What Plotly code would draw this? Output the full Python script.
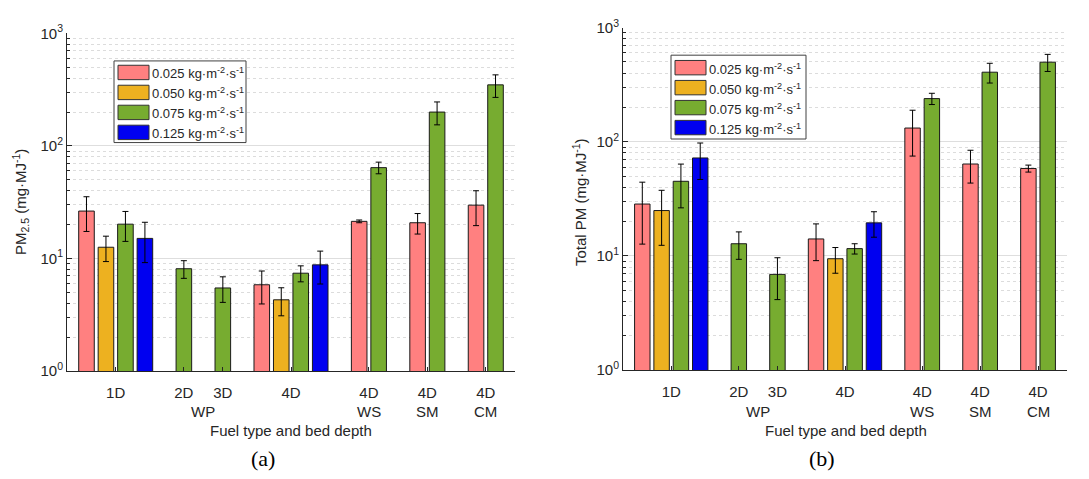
import plotly.graph_objects as go

# ---------------- data ----------------
categories = ["1D", "2D", "3D", "4D", "4D WS", "4D SM", "4D CM"]
tick_labels = ["1D", "2D", "3D", "4D", "4D", "4D", "4D"]
fuel_labels = ["WP", "WS", "SM", "CM"]
series_names = ["0.025 kg·m<sup>-2</sup>·s<sup>-1</sup>",
                "0.050 kg·m<sup>-2</sup>·s<sup>-1</sup>",
                "0.075 kg·m<sup>-2</sup>·s<sup>-1</sup>",
                "0.125 kg·m<sup>-2</sup>·s<sup>-1</sup>"]

# panel (a): PM2.5
pm25_025 = [26.4, None, None, 5.85, 21.4, 20.8, 29.8]
pm25_050 = [12.6, None, None, 4.30, None, None, None]
pm25_075 = [20.2, 8.12, 5.48, 7.41, 64.2, 200, 349]
pm25_125 = [15.1, None, None, 8.79, None, None, None]
pm25_err_025 = [9.0, None, None, 1.9, 0.6, 4.3, 10.2]
pm25_err_050 = [3.2, None, None, 1.2, None, None, None]
pm25_err_075 = [6.0, 1.45, 1.4, 1.2, 7.6, 46, 79]
pm25_err_125 = [5.9, None, None, 2.85, None, None, None]

# panel (b): Total PM
tpm_025 = [28.5, None, None, 14.1, 132, 63.9, 58.4]
tpm_050 = [25.0, None, None, 9.46, None, None, None]
tpm_075 = [45.1, 12.8, 6.9, 11.6, 239, 407, 498]
tpm_125 = [72.2, None, None, 19.5, None, None, None]
tpm_err_025 = [15.8, None, None, 5.0, 57, 20.4, 4.1]
tpm_err_050 = [12.6, None, None, 2.4, None, None, None]
tpm_err_075 = [18.7, 3.45, 2.75, 1.2, 27, 80, 85]
tpm_err_125 = [25.4, None, None, 4.9, None, None, None]

# ---------------- layout constants ----------------
group_pos = [0, 3.5, 5.5, 9, 13, 16, 19]
fuel_pos = [4.5, 13, 16, 19]
colors = ["#FF8080", "#EDB120", "#77AC30", "#0000F0"]
W, H = 1089, 479
TXT = "#262626"
FONT = "Liberation Sans, Arial, Helvetica, sans-serif"


def px_x(p):
    return p / W


def px_y(p):
    return 1 - p / H


fig = go.Figure()

panels = [
    dict(vals=[pm25_025, pm25_050, pm25_075, pm25_125],
         errs=[pm25_err_025, pm25_err_050, pm25_err_075, pm25_err_125],
         xa="x", ya="y"),
    dict(vals=[tpm_025, tpm_050, tpm_075, tpm_125],
         errs=[tpm_err_025, tpm_err_050, tpm_err_075, tpm_err_125],
         xa="x2", ya="y2"),
]

for pnl in panels:
    vals, errs = pnl["vals"], pnl["errs"]
    xs = [[None] * len(categories) for _ in vals]
    for ci in range(len(categories)):
        present = [si for si in range(len(vals)) if vals[si][ci] is not None]
        n = len(present)
        for k, si in enumerate(present):
            xs[si][ci] = group_pos[ci] + (k - (n - 1) / 2)
    for si in range(len(vals)):
        idx = [ci for ci in range(len(categories)) if vals[si][ci] is not None]
        fig.add_trace(go.Bar(
            x=[xs[si][ci] for ci in idx], y=[vals[si][ci] for ci in idx],
            width=0.8, name=series_names[si],
            marker=dict(color=colors[si], line=dict(color="#1a1a1a", width=1)),
            error_y=dict(type="data", array=[errs[si][ci] for ci in idx],
                         visible=True, color="#000000", thickness=1, width=3),
            xaxis=pnl["xa"], yaxis=pnl["ya"], showlegend=False,
        ))

minor_vals = [m * 10 ** d for d in range(3) for m in range(2, 10)]

common_y = dict(
    type="log", range=[0, 3],
    tickvals=[1, 10, 100, 1000],
    ticktext=["10<sup>0</sup>", "10<sup>1</sup>", "10<sup>2</sup>", "10<sup>3</sup>"],
    ticks="inside", ticklen=5, tickcolor=TXT,
    showline=True, linecolor=TXT, linewidth=1, mirror=False,
    showgrid=True, gridcolor="#dedede", gridwidth=1,
    minor=dict(tickmode="array", tickvals=minor_vals, ticks="inside", ticklen=3,
               tickcolor=TXT, showgrid=True, gridcolor="#dcdcdc", griddash="dot",
               gridwidth=1),
    tickfont=dict(family=FONT, size=15, color=TXT),
    zeroline=False,
)
common_x = dict(
    range=[-2.5, 20.5], tickvals=group_pos, ticktext=tick_labels,
    ticks="inside", ticklen=4, tickcolor=TXT,
    showline=True, linecolor=TXT, linewidth=1, mirror=False,
    showgrid=False, zeroline=False, ticklabelstandoff=8,
    tickfont=dict(family=FONT, size=15, color=TXT),
)

fig.update_layout(
    width=W, height=H, margin=dict(l=0, r=0, t=0, b=0),
    paper_bgcolor="white", plot_bgcolor="white",
    barmode="overlay", showlegend=False,
    xaxis=dict(common_x, domain=[px_x(67), px_x(515)], anchor="y"),
    yaxis=dict(common_y, domain=[px_y(375), px_y(23.3)], anchor="x"),
    xaxis2=dict(common_x, domain=[px_x(623), px_x(1067)], anchor="y2"),
    yaxis2=dict(common_y, domain=[px_y(374), px_y(17.3)], anchor="x2"),
)

ann = []
shapes = []
for (xa, cx, ylab, ycx, cap, capx) in [
    ("x", 291, "PM<sub>2.5</sub> (mg·MJ<sup>-1</sup>)", 20, "(a)", 263),
    ("x2", 846, "Total PM (mg·MJ<sup>-1</sup>)", 579, "(b)", 822),
]:
    for fx, fl in zip(fuel_pos, fuel_labels):
        ann.append(dict(x=fx, xref=xa, y=px_y(417), yref="paper", text=fl,
                        showarrow=False, xanchor="center", yanchor="middle",
                        font=dict(family=FONT, size=15, color=TXT)))
    ann.append(dict(x=px_x(cx), xref="paper", y=px_y(437), yref="paper",
                    text="Fuel type and bed depth", showarrow=False,
                    xanchor="center", yanchor="middle",
                    font=dict(family=FONT, size=15, color=TXT)))
    ann.append(dict(x=px_x(ycx), xref="paper", y=px_y(199), yref="paper",
                    text=ylab, textangle=-90, showarrow=False,
                    xanchor="center", yanchor="middle",
                    font=dict(family=FONT, size=15, color=TXT)))
    ann.append(dict(x=px_x(capx), xref="paper", y=px_y(466), yref="paper",
                    text=cap, showarrow=False, xanchor="center", yanchor="middle",
                    font=dict(family="Liberation Serif, DejaVu Serif, serif",
                              size=22, color="#000000")))

# custom legends (box, swatches, labels)
for (bx0, by0, bx1, by1, sx0, row0) in [
    (114, 52, 246, 137, 118, 64),
    (671, 46, 806, 133.3, 675, 59),
]:
    shapes.append(dict(type="rect", xref="paper", yref="paper",
                       x0=px_x(bx0), x1=px_x(bx1), y0=px_y(by1), y1=px_y(by0),
                       line=dict(color="#404040", width=1), fillcolor="white",
                       layer="above"))
    for si in range(4):
        cy = row0 + si * 20.8
        shapes.append(dict(type="rect", xref="paper", yref="paper",
                           x0=px_x(sx0), x1=px_x(sx0 + 31),
                           y0=px_y(cy + 7.5), y1=px_y(cy - 7.5),
                           line=dict(color="#333333", width=1),
                           fillcolor=colors[si], layer="above"))
        ann.append(dict(x=px_x(sx0 + 32), xref="paper", y=px_y(cy + 1), yref="paper",
                        text=series_names[si], showarrow=False,
                        xanchor="left", yanchor="middle",
                        font=dict(family=FONT, size=13, color=TXT)))

fig.update_layout(annotations=ann, shapes=shapes)

fig.write_html("out.html")
